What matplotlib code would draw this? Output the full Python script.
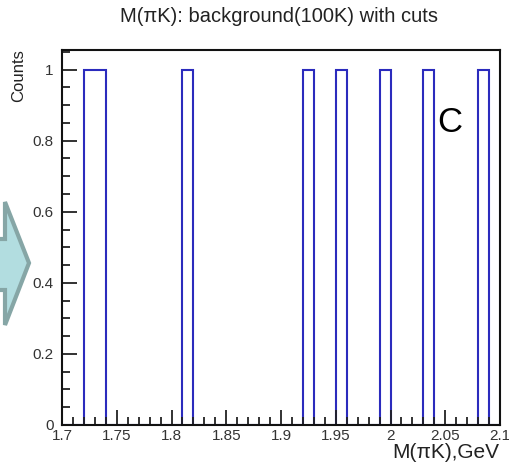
import numpy as np
import matplotlib
matplotlib.use("Agg")
import matplotlib.pyplot as plt
from matplotlib.patches import Polygon
from matplotlib.ticker import MultipleLocator

plt.rcParams['font.family'] = ['Liberation Sans', 'DejaVu Sans']

# Histogram binning: 40 bins of 0.01 GeV between 1.7 and 2.1
bin_lo = 1.7
bin_hi = 2.1
n_bins = 40
# Bins (lower edges, GeV) that hold one entry each
filled_bins = [1.72, 1.73, 1.81, 1.92, 1.95, 1.99, 2.03, 2.08]
filled_counts = [1, 1, 1, 1, 1, 1, 1, 1]

title = "M(\u03c0K): background(100K) with cuts"
xlabel = "M(\u03c0K),GeV"
ylabel = "Counts"
xtick_vals = [1.7, 1.75, 1.8, 1.85, 1.9, 1.95, 2.0, 2.05, 2.1]
xtick_text = ["1.7", "1.75", "1.8", "1.85", "1.9", "1.95", "2", "2.05", "2.1"]
ytick_vals = [0, 0.2, 0.4, 0.6, 0.8, 1.0]
ytick_text = ["0", "0.2", "0.4", "0.6", "0.8", "1"]

edges = np.linspace(bin_lo, bin_hi, n_bins + 1)
counts = np.zeros(n_bins)
for lo, c in zip(filled_bins, filled_counts):
    counts[int(round((lo - bin_lo) / 0.01))] = c

W, H = 510, 463
fig = plt.figure(figsize=(W / 100, H / 100), dpi=100)
ax = fig.add_axes([62 / W, 1 - 425 / H, 438 / W, 375 / H])

ax.stairs(counts, edges, color="#2b2bbd", linewidth=1.5, baseline=0)

ax.set_xlim(bin_lo, bin_hi)
ax.set_ylim(0, 1.055)
ax.set_xticks(xtick_vals)
ax.set_xticklabels(xtick_text)
ax.set_yticks(ytick_vals)
ax.set_yticklabels(ytick_text)
ax.xaxis.set_minor_locator(MultipleLocator(0.01))
ax.yaxis.set_minor_locator(MultipleLocator(0.05))
ax.tick_params(which="both", direction="in", top=False, right=False,
               colors="#222222", width=1.3, labelsize=11)
ax.tick_params(which="both", labelcolor="#333333")
ax.tick_params(which="major", length=11)
ax.tick_params(which="minor", length=6)
ax.tick_params(axis="x", pad=3)
ax.tick_params(axis="y", pad=6)
for s in ax.spines.values():
    s.set_linewidth(1.5)
    s.set_color("#111111")

fig.text(279 / W, 1 - 17 / H, title, ha="center", va="center", fontsize=14.5,
         color="#222222")
fig.text(499 / W, 1 - 453 / H, xlabel, ha="right", va="center", fontsize=15,
         color="#222222")
fig.text(19 / W, 1 - 49 / H, ylabel, ha="center", va="top", rotation=90,
         fontsize=12, color="#222222")
ax.text(450 / W, 1 - 122 / H, "C", transform=fig.transFigure, ha="center",
        va="center", fontsize=25, color="black")

# Block arrow at the left edge, pointing right
arrow_px = [(-20, 239), (5, 239), (5, 202), (29, 263), (5, 325), (5, 290), (-20, 290)]
arrow = Polygon([(x / W, 1 - y / H) for x, y in arrow_px], closed=True,
                transform=fig.transFigure, facecolor="#b2dde0",
                edgecolor="#86a6a6", linewidth=3, joinstyle="miter", clip_on=False)
fig.patches.append(arrow)

fig.savefig("out.png", dpi=100)
